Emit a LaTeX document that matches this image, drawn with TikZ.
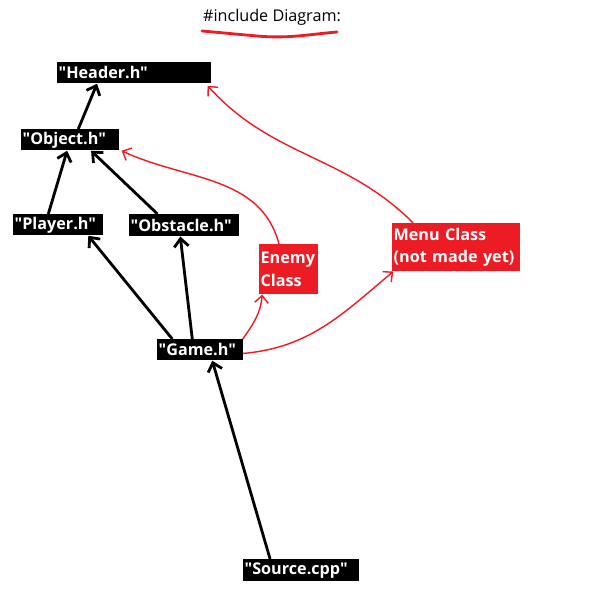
\documentclass[tikz,border=0pt]{standalone}
\usepackage{fontspec}
\setmainfont{Open Sans}[Ligatures=TeXOff]
\usetikzlibrary{arrows.meta}

\definecolor{paintred}{HTML}{ED1C24}

\tikzset{
  hfile/.style={fill=black,text=white,font=\fontsize{11.5}{16}\selectfont\bfseries,
    anchor=north west,inner xsep=1pt,inner ysep=0pt,align=left},
  todo/.style={hfile,fill=paintred},
  include/.style={line width=2pt,-{Straight Barb[length=2mm,width=3.6mm]}},
  planned/.style={draw=paintred,line width=1pt,-{Straight Barb[length=1.8mm,width=3.4mm]}},
}

\begin{document}
\begin{tikzpicture}[x=0.025cm,y=0.025cm]
        % Background
        \useasboundingbox[fill=white] (0,0) rectangle (600,600);

        % Title
        \node[font=\fontsize{11.5}{14}\selectfont] (title) at (272,583) {\#include Diagram:};
        \draw[paintred,line width=2pt,line cap=round] (202,569) to[out=-5,in=175] (257,564) to[out=-5,in=185] (337,568);

        % Files
        \node[hfile,text width=3.83cm-2pt,minimum height=0.53cm] (header) at (57,538) {"Header.h"};
        \node[hfile,text width=2.45cm-2pt,minimum height=0.53cm] (object) at (21,471) {"Object.h"};
        \node[hfile,text width=2.25cm-2pt,minimum height=0.53cm] (player) at (13,386) {"Player.h"};
        \node[hfile,text width=2.73cm-2pt,minimum height=0.55cm] (obstacle) at (129,386) {"Obstacle.h"};
        \node[hfile,text width=2.13cm-2pt,minimum height=0.53cm] (game) at (157,261) {"Game.h"};
        \node[hfile,text width=2.9cm-2pt,minimum height=0.55cm] (source) at (243,41) {"Source.cpp"};

        % Classes still to come
        \node[todo,text width=1.48cm-2pt,minimum height=1.25cm] (enemy) at (259,356) {Enemy\\Class};
        \node[todo,text width=3.18cm-2pt,minimum height=1.2cm] (menu) at (392,377) {Menu Class\\(not made yet)};

        % Includes
        \draw[include] ([xshift=0.2cm]object.north) -- ([xshift=1cm]header.south west);
        \draw[include] ([xshift=-0.25cm]player.north) -- ([xshift=-0.08cm]object.south);
        \draw[include] ([xshift=-0.66cm]obstacle.north) -- ([xshift=0.52cm]object.south);
        \draw[include] ([xshift=-0.69cm]game.north) -- ([xshift=0.75cm]player.south);
        \draw[include] ([xshift=-0.19cm]game.north) -- ([xshift=-0.09cm]obstacle.south);
        \draw[include] ([xshift=-0.78cm]source.north) -- ([xshift=0.31cm]game.south);

        % Planned includes
        \draw[planned] (game.north east) to[out=55,in=-95] ([xshift=0.08cm]enemy.south west);
        \draw[planned] ([yshift=-0.09cm]game.east) to[out=5,in=220] ([xshift=0.03cm]menu.south west);
        \draw[planned] ([xshift=0.5cm]enemy.north west) to[out=105,in=-25] ([xshift=0.05cm]object.south east);
        \draw[planned] ([xshift=0.53cm]menu.north west) to[out=135,in=-48] ([xshift=-0.08cm,yshift=-0.05cm]header.south east);

\end{tikzpicture}
\end{document}
